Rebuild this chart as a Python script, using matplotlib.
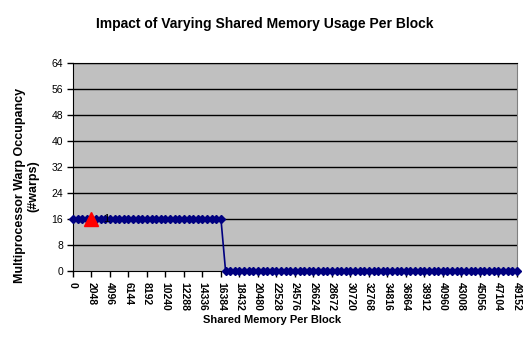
import matplotlib

matplotlib.use("Agg")
import matplotlib.pyplot as plt

plt.rcParams.update(
    {
        "font.family": ["Liberation Sans", "DejaVu Sans"],
        "axes.unicode_minus": False,
    }
)

# shared memory per block (bytes), sampled every 512
SHARED_MEM = [
    0, 512, 1024, 1536, 2048, 2560, 3072, 3584, 4096, 4608, 5120, 5632,
    6144, 6656, 7168, 7680, 8192, 8704, 9216, 9728, 10240, 10752, 11264, 11776,
    12288, 12800, 13312, 13824, 14336, 14848, 15360, 15872, 16384, 16896, 17408, 17920,
    18432, 18944, 19456, 19968, 20480, 20992, 21504, 22016, 22528, 23040, 23552, 24064,
    24576, 25088, 25600, 26112, 26624, 27136, 27648, 28160, 28672, 29184, 29696, 30208,
    30720, 31232, 31744, 32256, 32768, 33280, 33792, 34304, 34816, 35328, 35840, 36352,
    36864, 37376, 37888, 38400, 38912, 39424, 39936, 40448, 40960, 41472, 41984, 42496,
    43008, 43520, 44032, 44544, 45056, 45568, 46080, 46592, 47104, 47616, 48128, 48640,
    49152,
]
WARPS = [
    16, 16, 16, 16, 16, 16, 16, 16, 16, 16, 16, 16,
    16, 16, 16, 16, 16, 16, 16, 16, 16, 16, 16, 16,
    16, 16, 16, 16, 16, 16, 16, 16, 16, 0, 0, 0,
    0, 0, 0, 0, 0, 0, 0, 0, 0, 0, 0, 0,
    0, 0, 0, 0, 0, 0, 0, 0, 0, 0, 0, 0,
    0, 0, 0, 0, 0, 0, 0, 0, 0, 0, 0, 0,
    0, 0, 0, 0, 0, 0, 0, 0, 0, 0, 0, 0,
    0, 0, 0, 0, 0, 0, 0, 0, 0, 0, 0, 0,
    0,
]
X_TICKS = [
    0, 2048, 4096, 6144, 8192, 10240, 12288, 14336, 16384, 18432, 20480, 22528,
    24576, 26624, 28672, 30720, 32768, 34816, 36864, 38912, 40960, 43008, 45056, 47104,
    49152,
]
Y_TICKS = [0, 8, 16, 24, 32, 40, 48, 56, 64]

# current kernel configuration
CURRENT_MEM = [2048]
CURRENT_WARPS = [16]
CURRENT_LABEL = "1"


def main() -> None:
    fig = plt.figure(figsize=(5.29, 3.52), dpi=100)
    ax = fig.add_axes([0.138, 0.230, 0.839, 0.591])
    ax.set_facecolor("#C0C0C0")

    ax.set_xlim(X_TICKS[0], X_TICKS[-1])
    ax.set_ylim(Y_TICKS[0], Y_TICKS[-1])
    ax.set_yticks(Y_TICKS)
    ax.set_xticks(X_TICKS)
    ax.set_xticklabels([str(t) for t in X_TICKS], rotation=-90, fontsize=7.5, fontweight="bold")
    ax.tick_params(axis="y", labelsize=7.5, length=4, width=1, pad=3)
    ax.tick_params(axis="x", length=4, width=1, pad=4)

    for y in Y_TICKS[1:]:
        ax.axhline(y, color="black", linewidth=1, zorder=1)

    ax.plot(
        SHARED_MEM, WARPS,
        color="#000080", linewidth=1.2, marker="D", markersize=3.8,
        markerfacecolor="#000080", markeredgecolor="#000080",
        zorder=3, clip_on=False,
    )
    ax.plot(
        CURRENT_MEM, CURRENT_WARPS, linestyle="none", marker="^",
        markersize=10, color="#FF0000", zorder=4, clip_on=False,
    )
    ax.annotate(
        CURRENT_LABEL, (CURRENT_MEM[0], CURRENT_WARPS[0]),
        xytext=(8, 0), textcoords="offset points",
        fontsize=8, va="center", ha="left", zorder=5,
    )

    for side in ("left", "bottom", "top"):
        ax.spines[side].set_color("black")
    ax.spines["right"].set_color("#808080")

    fig.text(0.501, 0.932, "Impact of Varying Shared Memory Usage Per Block",
             ha="center", va="center", fontsize=10, fontweight="bold")
    fig.text(0.050, 0.472, "Multiprocessor Warp Occupancy\n(#warps)",
             ha="center", va="center", rotation=90, fontsize=9, fontweight="bold",
             linespacing=1.1)
    fig.text(0.514, 0.091, "Shared Memory Per Block",
             ha="center", va="center", fontsize=8, fontweight="bold")

    fig.savefig("out.png", dpi=100)


if __name__ == "__main__":
    main()
